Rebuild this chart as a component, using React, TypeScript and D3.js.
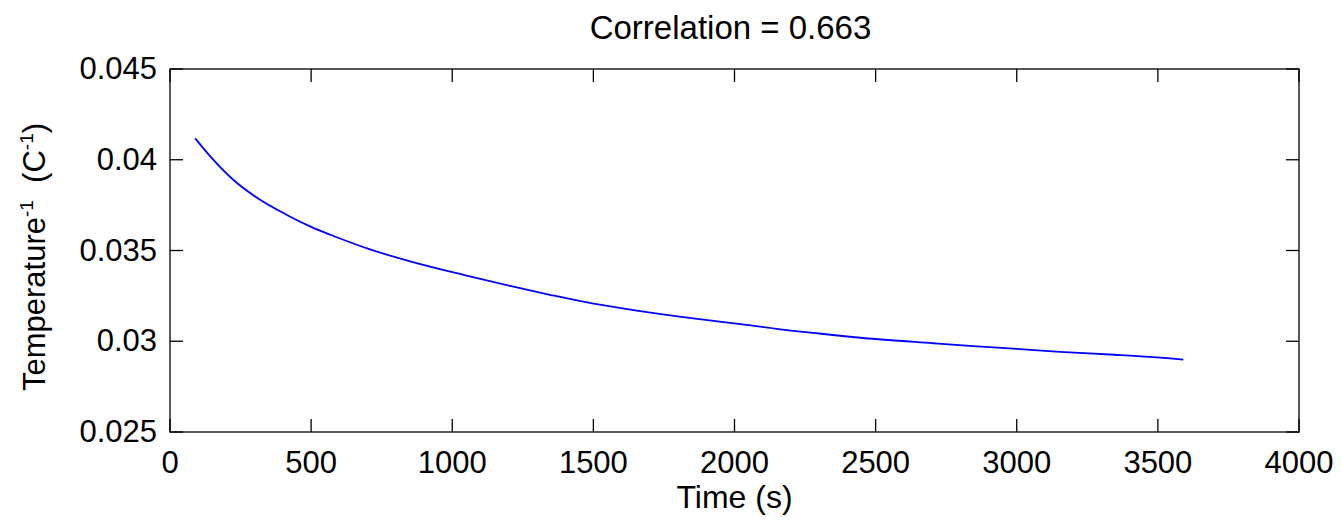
import React from "react";
import * as d3 from "d3";

const timeS = [89, 142, 224, 307, 414, 496, 591, 709, 880, 1051, 1205, 1346, 1500, 1642, 1854, 2043, 2161, 2279, 2456, 2704, 2858, 3000, 3153, 3330, 3472, 3590];
const invTemp = [0.04118, 0.0402, 0.0389, 0.03792, 0.03696, 0.03633, 0.03573, 0.03506, 0.03428, 0.03362, 0.03305, 0.03256, 0.03207, 0.03172, 0.03126, 0.0309, 0.03066, 0.03046, 0.03018, 0.02989, 0.02972, 0.02958, 0.02942, 0.02927, 0.02914, 0.02899];
const xTicks = [0, 500, 1000, 1500, 2000, 2500, 3000, 3500, 4000];
const yTicks = [0.025, 0.03, 0.035, 0.04, 0.045];
const yTickLabels = ["0.025", "0.03", "0.035", "0.04", "0.045"];
const titleText = "Correlation = 0.663";
const xLabel = "Time (s)";

export default function App() {
  const W = 1342, H = 525;
  const L = 170, R = 1299, T = 69, B = 432;
  const x = d3.scaleLinear().domain([0, 4000]).range([L, R]);
  const y = d3.scaleLinear().domain([0.025, 0.045]).range([B, T]);
  const pts = timeS.map((t, i) => [t, invTemp[i]] as [number, number]);
  const line = d3.line<[number, number]>().x(d => x(d[0])).y(d => y(d[1])).curve(d3.curveMonotoneX);
  const font = "'Liberation Sans', Arial, Helvetica, sans-serif";
  const tick = 13;
  return (
    <svg width={W} height={H} style={{ position: "absolute", left: 0, top: 0, background: "#fff" }} fontFamily={font}>
      <rect x={0} y={0} width={W} height={H} fill="#fff" />
      <path d={line(pts) || ""} fill="none" stroke="#0000ff" strokeWidth={1.8} />
      <rect x={L} y={T} width={R - L} height={B - T} fill="none" stroke="#000" strokeWidth={1.3} />
      {xTicks.map(t => (
        <g key={"x" + t}>
          <line x1={x(t)} x2={x(t)} y1={B} y2={B - tick} stroke="#000" strokeWidth={1.3} />
          <line x1={x(t)} x2={x(t)} y1={T} y2={T + tick} stroke="#000" strokeWidth={1.3} />
          <text x={x(t)} y={473} fontSize={31} textAnchor="middle" fill="#000">{t}</text>
        </g>
      ))}
      {yTicks.map((v, i) => (
        <g key={"y" + v}>
          <line x1={L} x2={L + tick} y1={y(v)} y2={y(v)} stroke="#000" strokeWidth={1.3} />
          <line x1={R} x2={R - tick} y1={y(v)} y2={y(v)} stroke="#000" strokeWidth={1.3} />
          <text x={157} y={y(v) + 10} fontSize={31} textAnchor="end" fill="#000">{yTickLabels[i]}</text>
        </g>
      ))}
      <text x={(L + R) / 2 - 4} y={39} fontSize={33} textAnchor="middle" fill="#000">{titleText}</text>
      <text x={(L + R) / 2} y={508} fontSize={32} textAnchor="middle" fill="#000">{xLabel}</text>
      <text transform={`translate(45, 257) rotate(-90)`} fontSize={31} textAnchor="middle" fill="#000">
        Temperature<tspan fontSize={19} dy={-12}>-1</tspan><tspan dy={12}>{"\u00a0\u00a0(C"}</tspan><tspan fontSize={19} dy={-12}>-1</tspan><tspan dy={12}>)</tspan>
      </text>
    </svg>
  );
}
